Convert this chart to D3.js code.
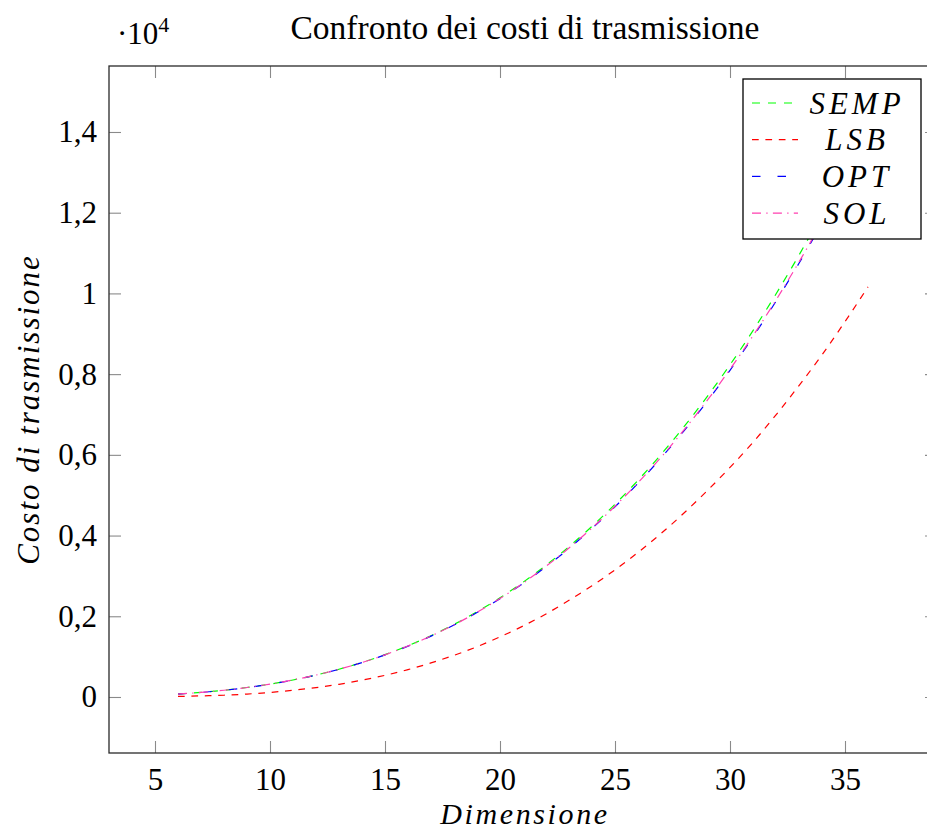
<!DOCTYPE html>
<html>
<head>
<meta charset="utf-8">
<script src="https://cdn.jsdelivr.net/npm/d3@7"></script>
<style>
  body { margin: 0; background: #fff; }
  text { font-family: "Liberation Serif", "Times New Roman", serif; fill: #000; }
</style>
</head>
<body>
<svg id="chart" width="927" height="831"></svg>
<script>
// dimensione (x values)
var dims = [6,7,8,9,10,11,12,13,14,15,16,17,18,19,20,21,22,23,24,25,26,27,28,29,30,31,32,33,34,35,36];

// costi di trasmissione
var semp = [73,113,166,235,319,421,544,688,856,1049,1269,1519,1798,2111,2458,2842,3263,3725,4229,4776,5368,6008,6698,7438,8231,9079,9985,10949,11973,13060,14211];
var lsb  = [13,27,43,73,113,166,232,314,417,537,679,844,1033,1246,1489,1758,2058,2395,2756,3151,3582,4050,4558,5106,5688,6311,6990,7716,8477,9301,10162];
var opt  = [73,113,166,234,318,420,542,685,851,1042,1260,1507,1783,2092,2434,2812,3227,3681,4176,4713,5294,5921,6596,7320,8095,8923,9806,10746,11743,12800,13919];
var sol  = [73,113,167,235,319,421,543,687,853,1045,1264,1511,1788,2098,2441,2820,3237,3692,4188,4727,5310,5939,6616,7342,8119,8950,9835,10778,11778,12838,13961];

var xTicks = [5,10,15,20,25,30,35];
var yTicks = [0,2000,4000,6000,8000,10000,12000,14000];
var yTickLabels = ["0","0,2","0,4","0,6","0,8","1","1,2","1,4"];

var series = [
    {name: "SEMP", values: semp, color: "#00ff00", dash: "8,8"},
    {name: "LSB",  values: lsb,  color: "#ff0000", dash: "6.7,6.7"},
    {name: "OPT",  values: opt,  color: "#0000ff", dash: "8.5,17"},
    {name: "SOL",  values: sol,  color: "#ff3fb0", dash: "9,5.3,1.3,5.3"}
];

var plotL = 109, plotR = 937, plotT = 66, plotB = 753;

var svg = d3.select("#chart");

var x = d3.scaleLinear().domain([3, 39]).range([plotL, plotR]);
var y = d3.scaleLinear().domain([-1388, 15635]).range([plotB, plotT]);

// assi (tacche verso l'interno)
var gx = svg.append("g").attr("transform", "translate(0," + plotB + ")")
    .call(d3.axisBottom(x).tickValues(xTicks).tickSize(-12).tickPadding(15).tickFormat(d3.format("d")));
var gy = svg.append("g").attr("transform", "translate(" + plotL + ",0)")
    .call(d3.axisLeft(y).tickValues(yTicks).tickSize(-12).tickPadding(12)
        .tickFormat(function(d, i) { return yTickLabels[i]; }));
var gt = svg.append("g").attr("transform", "translate(0," + plotT + ")")
    .call(d3.axisTop(x).tickValues(xTicks).tickSize(-12).tickFormat(""));
var gr = svg.append("g").attr("transform", "translate(" + plotR + ",0)")
    .call(d3.axisRight(y).tickValues(yTicks).tickSize(-12).tickFormat(""));

[gx, gy, gt, gr].forEach(function(g) {
    g.select(".domain").remove();
    g.selectAll(".tick line").attr("stroke", "#8a8a8a").attr("stroke-width", 1.1);
    g.selectAll(".tick text")
        .style("font-family", "'Liberation Serif', serif")
        .style("font-size", "31px")
        .attr("fill", "#000");
});

svg.append("rect")
    .attr("x", plotL).attr("y", plotT)
    .attr("width", plotR - plotL).attr("height", plotB - plotT)
    .attr("fill", "none").attr("stroke", "#2a2a2a").attr("stroke-width", 1.3);

// curve
var line = d3.line()
    .x(function(d) { return x(d[0]); })
    .y(function(d) { return y(d[1]); })
    .curve(d3.curveMonotoneX);

series.forEach(function(s) {
    svg.append("path")
        .datum(dims.map(function(d, i) { return [d, s.values[i]]; }))
        .attr("d", line)
        .attr("fill", "none")
        .attr("stroke", s.color)
        .attr("stroke-width", 1.2)
        .attr("stroke-dasharray", s.dash);
});

// legenda
var lg = svg.append("g");
lg.append("rect")
    .attr("x", 743).attr("y", 79).attr("width", 178).attr("height", 160)
    .attr("fill", "#fff").attr("stroke", "#000").attr("stroke-width", 1.3);

series.forEach(function(s, i) {
    var cy = 103 + i * 36.7;
    lg.append("line")
        .attr("x1", 752).attr("x2", 798)
        .attr("y1", cy).attr("y2", cy)
        .attr("stroke", s.color).attr("stroke-width", 1.2)
        .attr("stroke-dasharray", s.dash);
    lg.append("text")
        .attr("x", 857).attr("y", cy + 10.5)
        .attr("text-anchor", "middle")
        .style("font-style", "italic")
        .style("font-size", "31px")
        .style("letter-spacing", "4px")
        .text(s.name);
});

// titolo e etichette
svg.append("text")
    .attr("x", 525).attr("y", 39)
    .attr("text-anchor", "middle")
    .style("font-size", "33.5px")
    .text("Confronto dei costi di trasmissione");

var mult = svg.append("text").attr("x", 117).attr("y", 44).style("font-size", "31px");
mult.append("tspan").text("·10");
mult.append("tspan").attr("dy", -12).style("font-size", "22px").text("4");

svg.append("text")
    .attr("x", 525).attr("y", 824)
    .attr("text-anchor", "middle")
    .style("font-style", "italic")
    .style("font-size", "30px")
    .style("letter-spacing", "2.6px")
    .text("Dimensione");

svg.append("text")
    .attr("transform", "translate(39," + ((plotT + plotB) / 2) + ") rotate(-90)")
    .attr("text-anchor", "middle")
    .style("font-style", "italic")
    .style("font-size", "31px")
    .style("letter-spacing", "2px")
    .text("Costo di trasmissione");
</script>
</body>
</html>
